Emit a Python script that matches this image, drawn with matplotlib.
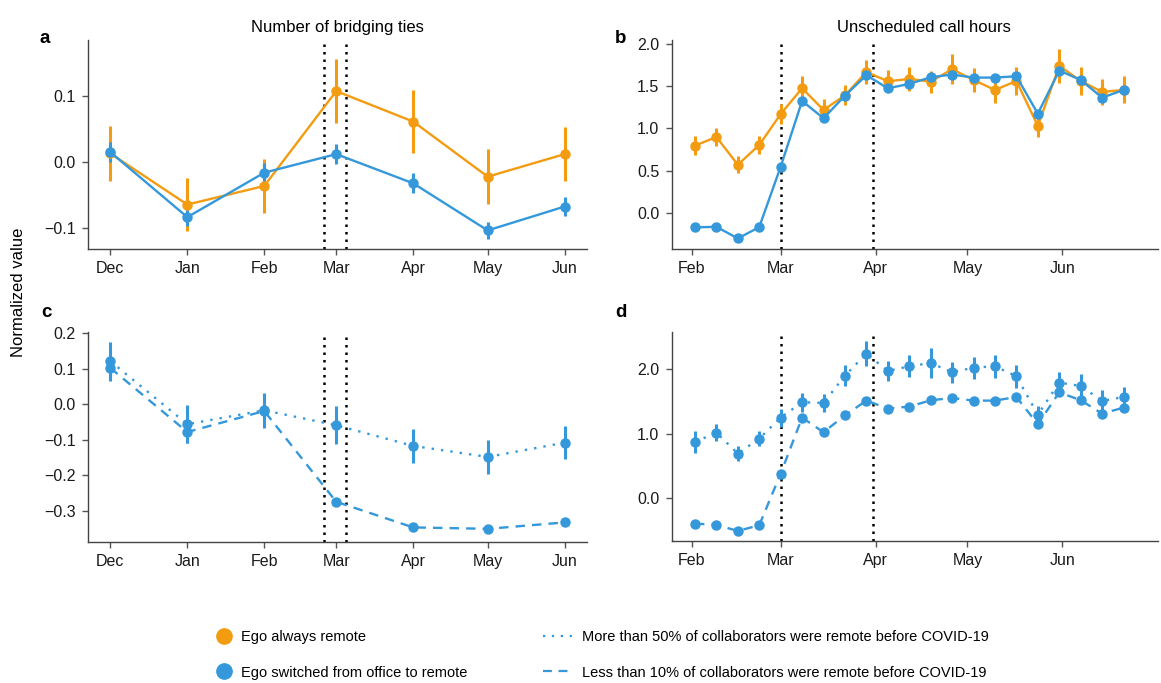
import matplotlib
matplotlib.use('Agg')
import matplotlib.pyplot as plt
import matplotlib.dates as mdates
from matplotlib.lines import Line2D
from matplotlib.ticker import FuncFormatter
import pandas as pd

plt.rcParams.update({
    'font.family': ['Liberation Sans', 'DejaVu Sans'],
    'font.size': 11.5,
    'axes.unicode_minus': True,
})

ORANGE = '#F39C12'
BLUE = '#3498DB'

# ---- monthly panels (a, c) ----
months = ['2019-12-01', '2020-01-01', '2020-02-01', '2020-03-01',
          '2020-04-01', '2020-05-01', '2020-06-01']
a_remote = [0.013, -0.064, -0.036, 0.107, 0.061, -0.022, 0.012]
a_remote_err = [0.042, 0.040, 0.040, 0.048, 0.047, 0.041, 0.041]
a_switched = [0.015, -0.083, -0.016, 0.012, -0.032, -0.103, -0.067]
a_switched_err = [0.015, 0.013, 0.014, 0.015, 0.015, 0.013, 0.014]

c_more50 = [0.121, -0.056, -0.017, -0.059, -0.117, -0.148, -0.108]
c_more50_err = [0.055, 0.053, 0.049, 0.053, 0.048, 0.047, 0.047]
c_less10 = [0.102, -0.078, -0.019, -0.274, -0.346, -0.350, -0.332]
c_less10_err = [0.035, 0.030, 0.020, 0.006, 0.005, 0.005, 0.005]

# ---- weekly panels (b, d) ----
weeks = ['2020-02-02', '2020-02-09', '2020-02-16', '2020-02-23', '2020-03-01',
         '2020-03-08', '2020-03-15', '2020-03-22', '2020-03-29', '2020-04-05',
         '2020-04-12', '2020-04-19', '2020-04-26', '2020-05-03', '2020-05-10',
         '2020-05-17', '2020-05-24', '2020-05-31', '2020-06-07', '2020-06-14',
         '2020-06-21']
week_ticks = ['2020-02-01', '2020-03-01', '2020-04-01', '2020-05-01', '2020-06-01']
b_remote = [0.796, 0.899, 0.570, 0.804, 1.172, 1.477, 1.220, 1.394, 1.671, 1.560,
            1.588, 1.556, 1.703, 1.576, 1.457, 1.564, 1.030, 1.743, 1.564, 1.434,
            1.457]
b_remote_err = [0.11, 0.11, 0.10, 0.11, 0.12, 0.14, 0.13, 0.12, 0.14, 0.13,
                0.14, 0.13, 0.18, 0.14, 0.15, 0.17, 0.13, 0.20, 0.17, 0.15,
                0.16]
b_switched = [-0.174, -0.166, -0.305, -0.170, 0.547, 1.327, 1.121, 1.390, 1.632, 1.477,
              1.529, 1.608, 1.640, 1.604, 1.604, 1.620, 1.176, 1.687, 1.576, 1.366,
              1.457]
b_switched_err = [0.03] * 21

d_more50 = [0.870, 1.016, 0.689, 0.922, 1.249, 1.487, 1.477, 1.902, 2.244, 1.974,
            2.047, 2.098, 1.953, 2.026, 2.047, 1.891, 1.295, 1.793, 1.741, 1.508,
            1.570]
d_more50_err = [0.17, 0.13, 0.12, 0.12, 0.14, 0.15, 0.14, 0.16, 0.19, 0.16,
                0.17, 0.24, 0.16, 0.17, 0.18, 0.18, 0.14, 0.17, 0.19, 0.17,
                0.16]
d_less10 = [-0.399, -0.420, -0.513, -0.425, 0.378, 1.249, 1.021, 1.285, 1.513, 1.389,
            1.420, 1.518, 1.554, 1.513, 1.513, 1.570, 1.145, 1.642, 1.518, 1.311,
            1.404]
d_less10_err = [0.03] * 21

# dotted reference lines
ref_monthly = ['2020-02-25', '2020-03-05']
ref_weekly = ['2020-03-01', '2020-03-31']

titles = ['Number of bridging ties', 'Unscheduled call hours']
legend_ego = ['Ego always remote', 'Ego switched from office to remote']
legend_collab = ['More than 50% of collaborators were remote before COVID-19',
                 'Less than 10% of collaborators were remote before COVID-19']

DOT = (0, (1, 3))
DASH = (0, (4, 3))

W, H = 1161, 683
fig = plt.figure(figsize=(W / 100, H / 100), dpi=100)


def rect(l, t, r, b):
    return [l / W, 1 - b / H, (r - l) / W, (b - t) / H]


ax_a = fig.add_axes(rect(88, 40, 587, 249))
ax_b = fig.add_axes(rect(672, 40, 1158, 249))
ax_c = fig.add_axes(rect(88, 332, 587, 542))
ax_d = fig.add_axes(rect(672, 332, 1158, 541))

xm = pd.to_datetime(months)
xw = pd.to_datetime(weeks)


def fmt(v, pos):
    return f'{v:.1f}'.replace('-', '\u2212')


def style(ax, xlim, xticks, ylim, yticks, refs):
    for s in ['top', 'right']:
        ax.spines[s].set_visible(False)
    for s in ['left', 'bottom']:
        ax.spines[s].set_color('#444444')
        ax.spines[s].set_linewidth(1.0)
    ax.set_xlim(pd.to_datetime(xlim[0]), pd.to_datetime(xlim[1]))
    ax.set_ylim(*ylim)
    ax.set_xticks(pd.to_datetime(xticks))
    ax.set_yticks(yticks)
    ax.yaxis.set_major_formatter(FuncFormatter(fmt))
    ax.xaxis.set_major_formatter(mdates.DateFormatter('%b'))
    ax.tick_params(axis='both', length=4, width=1, color='#555555',
                   labelcolor='#1a1a1a', labelsize=11.5)
    ax.tick_params(axis='x', pad=4.5)
    ax.tick_params(axis='y', pad=5)
    for r in refs:
        ax.axvline(pd.to_datetime(r), color='black', lw=1.8,
                   linestyle=(0, (1, 2)), zorder=1)


def series(ax, x, y, err, color, ls):
    ax.errorbar(x, y, yerr=err, color=color, marker='o', ms=6.5,
                linestyle=ls, lw=1.7, elinewidth=2.2, capsize=0, zorder=3)


# panel a
style(ax_a, ('2019-11-22', '2020-06-10'), months, (-0.131, 0.184),
      [-0.1, 0.0, 0.1], ref_monthly)
series(ax_a, xm, a_remote, a_remote_err, ORANGE, '-')
series(ax_a, xm, a_switched, a_switched_err, BLUE, '-')
ax_a.set_title(titles[0], fontsize=12, pad=6)

# panel b
style(ax_b, ('2020-01-25 12:00', '2020-07-02 06:00'), week_ticks, (-0.43, 2.05),
      [0.0, 0.5, 1.0, 1.5, 2.0], ref_weekly)
series(ax_b, xw, b_remote, b_remote_err, ORANGE, '-')
series(ax_b, xw, b_switched, b_switched_err, BLUE, '-')
ax_b.set_title(titles[1], fontsize=12, pad=6, x=0.518)

# panel c
style(ax_c, ('2019-11-22', '2020-06-10'), months, (-0.387, 0.203),
      [-0.3, -0.2, -0.1, 0.0, 0.1, 0.2], ref_monthly)
series(ax_c, xm, c_more50, c_more50_err, BLUE, DOT)
series(ax_c, xm, c_less10, c_less10_err, BLUE, DASH)

# panel d
style(ax_d, ('2020-01-25 12:00', '2020-07-02 06:00'), week_ticks, (-0.67, 2.58),
      [0.0, 1.0, 2.0], ref_weekly)
series(ax_d, xw, d_more50, d_more50_err, BLUE, DOT)
series(ax_d, xw, d_less10, d_less10_err, BLUE, DASH)

# panel letters
for letter, (px, py) in zip('abcd', [(40, 43), (615, 43), (41, 317), (615, 317)]):
    fig.text(px / W, 1 - py / H, letter, fontsize=13.5, fontweight='bold',
             ha='left', va='baseline')

fig.text(19 / W, 1 - 292 / H, 'Normalized value', rotation=90,
         ha='center', va='center', fontsize=12)

# legends
h_ego = [Line2D([], [], color=ORANGE, marker='o', ms=11, linestyle='none'),
         Line2D([], [], color=BLUE, marker='o', ms=11, linestyle='none')]
fig.legend(h_ego, legend_ego, loc='center left',
           bbox_to_anchor=(218 / W, 1 - 655 / H), frameon=False, fontsize=10.5,
           handlelength=0.8, handletextpad=0.75, labelspacing=1.45,
           borderpad=0, borderaxespad=0)

h_col = [Line2D([], [], color=BLUE, lw=1.6, linestyle=DOT),
         Line2D([], [], color=BLUE, lw=1.6, linestyle=DASH)]
fig.legend(h_col, legend_collab, loc='center left',
           bbox_to_anchor=(543 / W, 1 - 655 / H), frameon=False, fontsize=10.5,
           handlelength=2.05, handletextpad=0.62, labelspacing=1.45,
           borderpad=0, borderaxespad=0)

fig.savefig('out.png', dpi=100)
